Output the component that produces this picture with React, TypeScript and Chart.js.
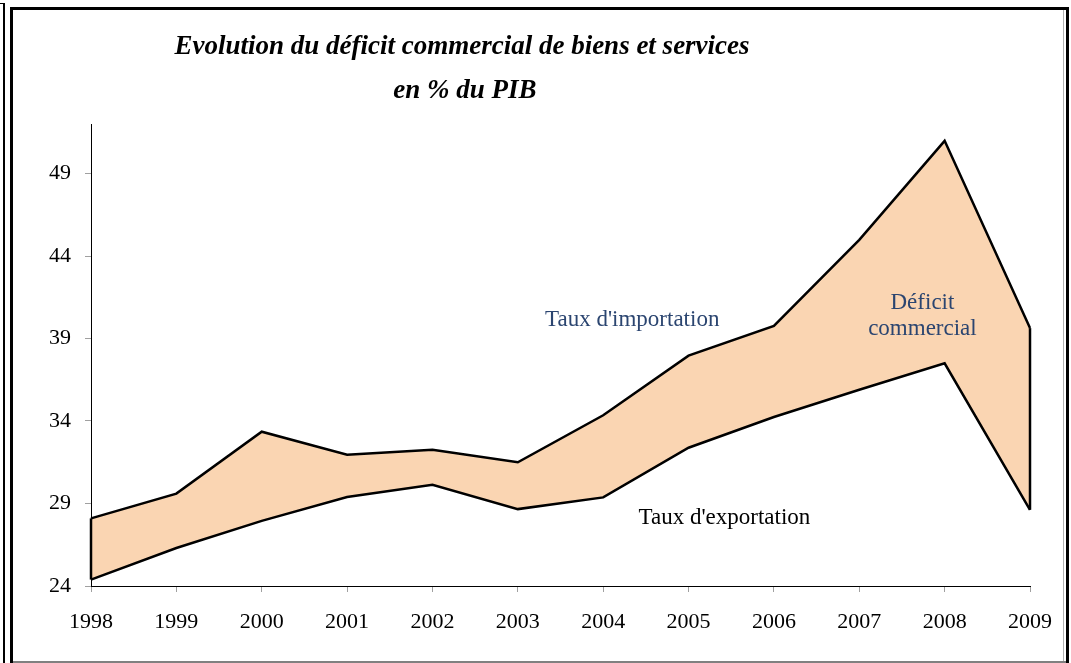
import React, { useEffect, useRef } from "react";
import { Chart, registerables } from "chart.js";

Chart.register(...registerables);

const years = ["1998", "1999", "2000", "2001", "2002", "2003", "2004", "2005", "2006", "2007", "2008", "2009"];
const importRate = [28.1, 29.6, 33.35, 31.95, 32.26, 31.5, 34.35, 37.96, 39.76, 44.98, 50.98, 39.63];
const exportRate = [24.39, 26.3, 27.95, 29.39, 30.14, 28.66, 29.37, 32.38, 34.24, 35.89, 37.5, 28.62];
const yTickValues = [24, 29, 34, 39, 44, 49];
const titleLines = ["Evolution du déficit commercial de biens et services", "en % du PIB"];
// annotations anchored in data coordinates
const noteTexts = ["Taux d'importation", "Déficit", "commercial", "Taux d'exportation"];
const noteX = [6.34, 9.74, 9.74, 7.42];
const noteY = [40.13, 41.15, 39.6, 28.1];
const noteColors = ["#2B4570", "#2B4570", "#2B4570", "#000000"];

const FILL = "#FAD5B2";
const SERIF = "'Liberation Serif', 'Times New Roman', serif";

const overlayPlugin = {
  id: "overlay",
  afterDatasetsDraw(chart: any) {
    const { ctx, scales } = chart;
    const x = scales.x;
    const y = scales.y;
    ctx.save();
    ctx.strokeStyle = "#000";
    ctx.lineWidth = 2.5;
    [0, years.length - 1].forEach((i) => {
      const px = x.getPixelForValue(i);
      ctx.beginPath();
      ctx.moveTo(px, y.getPixelForValue(exportRate[i]));
      ctx.lineTo(px, y.getPixelForValue(importRate[i]));
      ctx.stroke();
    });
    ctx.font = `23px ${SERIF}`;
    ctx.textAlign = "center";
    ctx.textBaseline = "middle";
    noteTexts.forEach((t, k) => {
      ctx.fillStyle = noteColors[k];
      ctx.fillText(t, x.getPixelForValue(noteX[k]), y.getPixelForValue(noteY[k]));
    });
    ctx.restore();
  },
  afterDraw(chart: any) {
    const { ctx } = chart;
    ctx.save();
    ctx.fillStyle = "#000";
    ctx.textAlign = "center";
    ctx.textBaseline = "middle";
    ctx.font = `italic bold 24px ${SERIF}`;
    const w = ctx.measureText(titleLines[0]).width;
    const size = 24 * (575 / w);
    ctx.font = `italic bold ${size.toFixed(1)}px ${SERIF}`;
    ctx.fillText(titleLines[0], 462, 47);
    ctx.fillText(titleLines[1], 465, 91);
    ctx.restore();
  },
};

export default function App() {
  const ref = useRef<HTMLCanvasElement>(null);
  useEffect(() => {
    if (!ref.current) return;
    const chart = new Chart(ref.current, {
      type: "line",
      data: {
        labels: years,
        datasets: [
          {
            label: "Taux d'exportation",
            data: exportRate,
            borderColor: "#000",
            borderWidth: 2.5,
            pointRadius: 0,
            tension: 0,
            fill: false,
          },
          {
            label: "Taux d'importation",
            data: importRate,
            borderColor: "#000",
            borderWidth: 2.5,
            pointRadius: 0,
            tension: 0,
            backgroundColor: FILL,
            fill: "-1",
          },
        ],
      },
      options: {
        responsive: false,
        animation: false,
        events: [],
        layout: { padding: { left: 0, top: 124, right: 41, bottom: 27 } },
        plugins: {
          legend: { display: false },
          tooltip: { enabled: false },
          title: { display: false },
        },
        scales: {
          x: {
            type: "category",
            offset: false,
            grid: {
              drawOnChartArea: false,
              drawTicks: true,
              tickLength: 6,
              color: "#A0A0A0",
            },
            border: { color: "#000", width: 1 },
            ticks: {
              color: "#000",
              font: { family: SERIF, size: 22 },
              padding: 17,
              maxRotation: 0,
              autoSkip: false,
            },
            afterFit: (s: any) => {
              s.height = 50;
            },
          },
          y: {
            min: 24,
            max: 52,
            grid: {
              drawOnChartArea: false,
              drawTicks: true,
              tickLength: 6,
              color: "#A0A0A0",
            },
            border: { color: "#000", width: 1 },
            afterBuildTicks: (s: any) => {
              s.ticks = yTickValues.map((v) => ({ value: v }));
            },
            ticks: {
              color: "#000",
              font: { family: SERIF, size: 22 },
              padding: 14,
            },
            afterFit: (s: any) => {
              s.width = 91;
            },
          },
        },
      },
      plugins: [overlayPlugin],
    });
    return () => chart.destroy();
  }, []);

  const line = (style: React.CSSProperties) => (
    <div style={{ position: "absolute", background: "#000", ...style }} />
  );

  return (
    <div style={{ position: "absolute", left: 0, top: 0, width: 1071, height: 663, background: "#fff", overflow: "hidden" }}>
      <canvas ref={ref} width={1071} height={663} style={{ position: "absolute", left: 0, top: 0 }} />
      {line({ left: 3, top: 3, width: 2, height: 660 })}
      {line({ left: 0, top: 3, width: 5, height: 1 })}
      {line({ left: 10, top: 7, width: 3, height: 656 })}
      {line({ left: 10, top: 7, width: 1059, height: 3 })}
      {line({ left: 1066, top: 7, width: 3, height: 656 })}
      {line({ left: 1063, top: 10, width: 1, height: 652, background: "#B0B0B0" })}
      {line({ left: 13, top: 661, width: 1053, height: 2, background: "#808080" })}
    </div>
  );
}
